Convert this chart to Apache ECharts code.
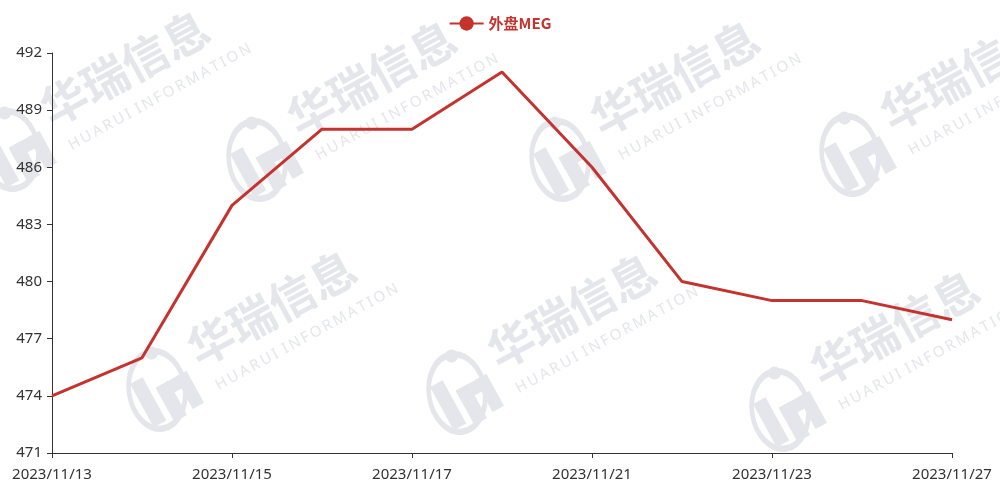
<!DOCTYPE html>
<html>
<head>
<meta charset="utf-8">
<script src="https://cdn.jsdelivr.net/npm/echarts@6/dist/echarts.min.js"></script>
<style>
  html, body { margin: 0; padding: 0; background: #ffffff; }
  #chart { width: 1000px; height: 495px; }
</style>
</head>
<body>
<div id="chart"></div>
<script>
// ---- data ----
var categories = ['2023/11/13', '2023/11/14', '2023/11/15', '2023/11/16', '2023/11/17', '2023/11/20', '2023/11/21', '2023/11/22', '2023/11/23', '2023/11/24', '2023/11/27'];
var seriesName = '外盘MEG';
var values = [474, 476, 484, 488, 488, 491, 486, 480, 479, 479, 478];
var yTicks = [471, 474, 477, 480, 483, 486, 489, 492];

// ---- watermark decoration (background) ----
var wmColor = '#e4e6ec';
var wmTiles = [[10, 150], [257, 160], [560, 160], [850, 155], [157, 390], [457, 393], [780, 410]];
function wmTile(p) {
  return {
    type: 'group',
    x: p[0], y: p[1],
    rotation: 0.5,
    silent: true,
    z: -10,
    children: [
      { type: 'group', scaleX: 1.3, scaleY: 1.3, children: [
        { type: 'group', rotation: -0.35, children: [
          { type: 'circle', shape: { cx: 0, cy: 0, r: 30 }, scaleX: 0.72, style: { fill: 'none', stroke: wmColor, lineWidth: 5 }, z: -10 }
        ]},
        { type: 'circle', shape: { cx: 10, cy: -27, r: 5 }, style: { fill: wmColor }, z: -10 },
        { type: 'rect', shape: { x: -16, y: -14, width: 11, height: 38 }, style: { fill: wmColor }, z: -10 },
        { type: 'rect', shape: { x: 0, y: -2, width: 11, height: 30 }, style: { fill: wmColor }, z: -10 },
        { type: 'rect', shape: { x: 0, y: -2, width: 26, height: 10 }, style: { fill: wmColor }, z: -10 },
        { type: 'rect', shape: { x: 17, y: -2, width: 10, height: 28 }, style: { fill: wmColor }, z: -10 }
      ]},
      { type: 'text', x: 48, y: 6, style: { text: '华瑞信息', fill: wmColor, font: 'bold 46px "Noto Sans CJK SC"', textVerticalAlign: 'bottom' }, z: -10 },
      { type: 'text', x: 54, y: 33, style: { text: 'H\u2009U\u2009A\u2009R\u2009U\u2009I\u2009 I\u2009N\u2009F\u2009O\u2009R\u2009M\u2009A\u2009T\u2009I\u2009O\u2009N', fill: wmColor, font: '15px "Noto Sans"', textVerticalAlign: 'bottom' }, z: -10 }
    ]
  };
}

var chart = echarts.init(document.getElementById('chart'), null, { renderer: 'canvas' });
var red = '#c4332e';
var labelFont = '"Noto Sans", sans-serif';
chart.setOption({
  backgroundColor: '#ffffff',
  animation: false,
  graphic: wmTiles.map(wmTile),
  legend: {
    top: 11,
    left: 'center',
    itemWidth: 34,
    itemHeight: 18,
    itemGap: 10,
    data: [seriesName],
    textStyle: { color: red, fontWeight: 'bold', fontSize: 15, fontFamily: '"Noto Sans CJK SC", "Noto Sans", sans-serif' }
  },
  grid: { left: 52, right: 48, top: 53, bottom: 42, containLabel: false },
  xAxis: {
    type: 'category',
    data: categories,
    boundaryGap: false,
    axisLine: { lineStyle: { color: '#333333', width: 1 } },
    axisTick: { show: true, interval: 1, length: 5, lineStyle: { color: '#333333' } },
    axisLabel: { interval: 1, color: '#333333', fontSize: 15, margin: 14, fontFamily: labelFont },
    splitLine: { show: false }
  },
  yAxis: {
    type: 'value',
    min: yTicks[0],
    max: yTicks[yTicks.length - 1],
    interval: yTicks[1] - yTicks[0],
    axisLine: { show: true, lineStyle: { color: '#333333', width: 1 } },
    axisTick: { show: true, length: 5, lineStyle: { color: '#333333' } },
    axisLabel: { color: '#333333', fontSize: 15, margin: 10, fontFamily: labelFont },
    splitLine: { show: false }
  },
  series: [{
    name: seriesName,
    type: 'line',
    data: values,
    symbol: 'circle',
    symbolSize: 8,
    showSymbol: false,
    itemStyle: { color: red },
    lineStyle: { color: red, width: 3 },
    z: 5
  }]
});
</script>
</body>
</html>
